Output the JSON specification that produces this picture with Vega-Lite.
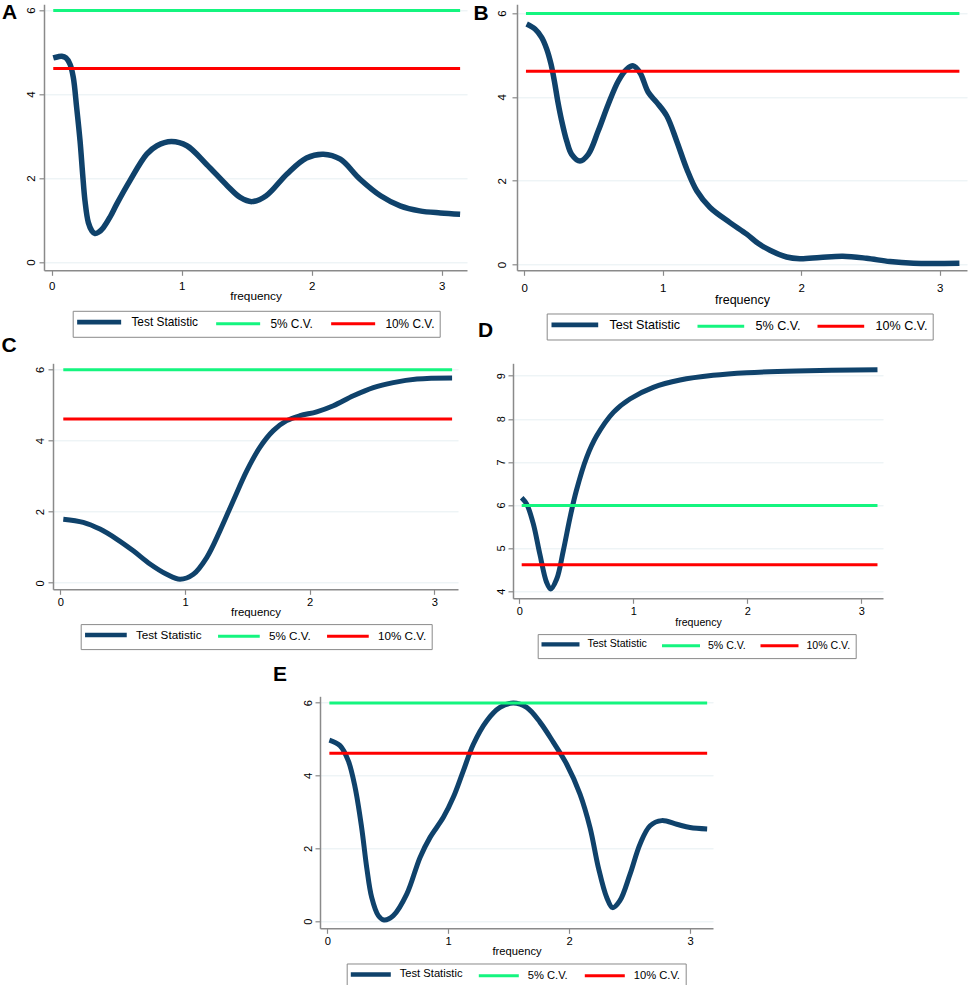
{
  "$schema": "https://vega.github.io/schema/vega-lite/v6.json",
  "padding": {"left": 0, "top": 1.3, "right": 0, "bottom": 0},
  "background": "white",
  "datasets": {
    "A": [
      {"s": "Test Statistic", "f": 0.012, "v": 4.86},
      {"s": "Test Statistic", "f": 0.05, "v": 4.89},
      {"s": "Test Statistic", "f": 0.077, "v": 4.9},
      {"s": "Test Statistic", "f": 0.11, "v": 4.86},
      {"s": "Test Statistic", "f": 0.141, "v": 4.71},
      {"s": "Test Statistic", "f": 0.166, "v": 4.4},
      {"s": "Test Statistic", "f": 0.192, "v": 3.68},
      {"s": "Test Statistic", "f": 0.218, "v": 2.89},
      {"s": "Test Statistic", "f": 0.238, "v": 2.1},
      {"s": "Test Statistic", "f": 0.256, "v": 1.46},
      {"s": "Test Statistic", "f": 0.282, "v": 0.94},
      {"s": "Test Statistic", "f": 0.31, "v": 0.74},
      {"s": "Test Statistic", "f": 0.333, "v": 0.68},
      {"s": "Test Statistic", "f": 0.36, "v": 0.71},
      {"s": "Test Statistic", "f": 0.397, "v": 0.82},
      {"s": "Test Statistic", "f": 0.45, "v": 1.08},
      {"s": "Test Statistic", "f": 0.5, "v": 1.38},
      {"s": "Test Statistic", "f": 0.602, "v": 1.94},
      {"s": "Test Statistic", "f": 0.731, "v": 2.57},
      {"s": "Test Statistic", "f": 0.81, "v": 2.77},
      {"s": "Test Statistic", "f": 0.92, "v": 2.87},
      {"s": "Test Statistic", "f": 1.04, "v": 2.77},
      {"s": "Test Statistic", "f": 1.19, "v": 2.33},
      {"s": "Test Statistic", "f": 1.35, "v": 1.82},
      {"s": "Test Statistic", "f": 1.45, "v": 1.54},
      {"s": "Test Statistic", "f": 1.54, "v": 1.44},
      {"s": "Test Statistic", "f": 1.65, "v": 1.58},
      {"s": "Test Statistic", "f": 1.81, "v": 2.1},
      {"s": "Test Statistic", "f": 1.96, "v": 2.48},
      {"s": "Test Statistic", "f": 2.09, "v": 2.57},
      {"s": "Test Statistic", "f": 2.22, "v": 2.45},
      {"s": "Test Statistic", "f": 2.37, "v": 1.98},
      {"s": "Test Statistic", "f": 2.53, "v": 1.58},
      {"s": "Test Statistic", "f": 2.68, "v": 1.34},
      {"s": "Test Statistic", "f": 2.83, "v": 1.22},
      {"s": "Test Statistic", "f": 2.99, "v": 1.17},
      {"s": "Test Statistic", "f": 3.1416, "v": 1.14},
      {"s": "5% C.V.", "f": 0.012, "v": 5.99},
      {"s": "5% C.V.", "f": 3.1416, "v": 5.99},
      {"s": "10% C.V.", "f": 0.012, "v": 4.61},
      {"s": "10% C.V.", "f": 3.1416, "v": 4.61}
    ],
    "B": [
      {"s": "Test Statistic", "f": 0.017, "v": 5.74},
      {"s": "Test Statistic", "f": 0.077, "v": 5.62},
      {"s": "Test Statistic", "f": 0.125, "v": 5.42},
      {"s": "Test Statistic", "f": 0.162, "v": 5.14},
      {"s": "Test Statistic", "f": 0.193, "v": 4.78},
      {"s": "Test Statistic", "f": 0.217, "v": 4.38},
      {"s": "Test Statistic", "f": 0.241, "v": 3.91},
      {"s": "Test Statistic", "f": 0.27, "v": 3.43},
      {"s": "Test Statistic", "f": 0.306, "v": 2.95},
      {"s": "Test Statistic", "f": 0.342, "v": 2.63},
      {"s": "Test Statistic", "f": 0.402, "v": 2.47},
      {"s": "Test Statistic", "f": 0.462, "v": 2.63},
      {"s": "Test Statistic", "f": 0.534, "v": 3.19},
      {"s": "Test Statistic", "f": 0.607, "v": 3.83},
      {"s": "Test Statistic", "f": 0.679, "v": 4.38},
      {"s": "Test Statistic", "f": 0.739, "v": 4.66},
      {"s": "Test Statistic", "f": 0.787, "v": 4.74},
      {"s": "Test Statistic", "f": 0.835, "v": 4.58},
      {"s": "Test Statistic", "f": 0.895, "v": 4.11},
      {"s": "Test Statistic", "f": 0.956, "v": 3.87},
      {"s": "Test Statistic", "f": 1.028, "v": 3.55},
      {"s": "Test Statistic", "f": 1.1, "v": 2.95},
      {"s": "Test Statistic", "f": 1.173, "v": 2.28},
      {"s": "Test Statistic", "f": 1.245, "v": 1.76},
      {"s": "Test Statistic", "f": 1.341, "v": 1.36},
      {"s": "Test Statistic", "f": 1.485, "v": 1.0},
      {"s": "Test Statistic", "f": 1.606, "v": 0.725},
      {"s": "Test Statistic", "f": 1.69, "v": 0.5},
      {"s": "Test Statistic", "f": 1.774, "v": 0.34},
      {"s": "Test Statistic", "f": 1.894, "v": 0.18},
      {"s": "Test Statistic", "f": 1.99, "v": 0.14},
      {"s": "Test Statistic", "f": 2.135, "v": 0.17},
      {"s": "Test Statistic", "f": 2.3, "v": 0.2},
      {"s": "Test Statistic", "f": 2.47, "v": 0.15},
      {"s": "Test Statistic", "f": 2.64, "v": 0.07},
      {"s": "Test Statistic", "f": 2.81, "v": 0.03},
      {"s": "Test Statistic", "f": 3.1416, "v": 0.03},
      {"s": "5% C.V.", "f": 0.012, "v": 5.99},
      {"s": "5% C.V.", "f": 3.1416, "v": 5.99},
      {"s": "10% C.V.", "f": 0.012, "v": 4.61},
      {"s": "10% C.V.", "f": 3.1416, "v": 4.61}
    ],
    "C": [
      {"s": "Test Statistic", "f": 0.024, "v": 1.79},
      {"s": "Test Statistic", "f": 0.184, "v": 1.7},
      {"s": "Test Statistic", "f": 0.318, "v": 1.51},
      {"s": "Test Statistic", "f": 0.452, "v": 1.23},
      {"s": "Test Statistic", "f": 0.585, "v": 0.9},
      {"s": "Test Statistic", "f": 0.719, "v": 0.53},
      {"s": "Test Statistic", "f": 0.853, "v": 0.24},
      {"s": "Test Statistic", "f": 0.96, "v": 0.1},
      {"s": "Test Statistic", "f": 1.067, "v": 0.24},
      {"s": "Test Statistic", "f": 1.174, "v": 0.71},
      {"s": "Test Statistic", "f": 1.28, "v": 1.46},
      {"s": "Test Statistic", "f": 1.387, "v": 2.31},
      {"s": "Test Statistic", "f": 1.495, "v": 3.15},
      {"s": "Test Statistic", "f": 1.6, "v": 3.81},
      {"s": "Test Statistic", "f": 1.708, "v": 4.28},
      {"s": "Test Statistic", "f": 1.815, "v": 4.56},
      {"s": "Test Statistic", "f": 1.922, "v": 4.7},
      {"s": "Test Statistic", "f": 2.056, "v": 4.81},
      {"s": "Test Statistic", "f": 2.19, "v": 4.98},
      {"s": "Test Statistic", "f": 2.35, "v": 5.26},
      {"s": "Test Statistic", "f": 2.51, "v": 5.49},
      {"s": "Test Statistic", "f": 2.67, "v": 5.63},
      {"s": "Test Statistic", "f": 2.86, "v": 5.73},
      {"s": "Test Statistic", "f": 3.1416, "v": 5.76},
      {"s": "5% C.V.", "f": 0.024, "v": 5.99},
      {"s": "5% C.V.", "f": 3.1416, "v": 5.99},
      {"s": "10% C.V.", "f": 0.024, "v": 4.61},
      {"s": "10% C.V.", "f": 3.1416, "v": 4.61}
    ],
    "D": [
      {"s": "Test Statistic", "f": 0.021, "v": 6.17},
      {"s": "Test Statistic", "f": 0.065, "v": 6.02},
      {"s": "Test Statistic", "f": 0.123, "v": 5.56},
      {"s": "Test Statistic", "f": 0.18, "v": 4.86},
      {"s": "Test Statistic", "f": 0.24, "v": 4.2},
      {"s": "Test Statistic", "f": 0.275, "v": 4.05},
      {"s": "Test Statistic", "f": 0.328, "v": 4.28},
      {"s": "Test Statistic", "f": 0.386, "v": 4.94},
      {"s": "Test Statistic", "f": 0.445, "v": 5.71},
      {"s": "Test Statistic", "f": 0.5, "v": 6.33},
      {"s": "Test Statistic", "f": 0.59, "v": 7.1},
      {"s": "Test Statistic", "f": 0.68, "v": 7.61},
      {"s": "Test Statistic", "f": 0.825, "v": 8.15},
      {"s": "Test Statistic", "f": 0.97, "v": 8.46},
      {"s": "Test Statistic", "f": 1.175, "v": 8.73},
      {"s": "Test Statistic", "f": 1.41, "v": 8.9},
      {"s": "Test Statistic", "f": 1.7, "v": 9.01},
      {"s": "Test Statistic", "f": 1.995, "v": 9.07},
      {"s": "Test Statistic", "f": 2.43, "v": 9.11},
      {"s": "Test Statistic", "f": 3.1416, "v": 9.14},
      {"s": "5% C.V.", "f": 0.021, "v": 5.99},
      {"s": "5% C.V.", "f": 3.1416, "v": 5.99},
      {"s": "10% C.V.", "f": 0.021, "v": 4.61},
      {"s": "10% C.V.", "f": 3.1416, "v": 4.61}
    ],
    "E": [
      {"s": "Test Statistic", "f": 0.017, "v": 4.97},
      {"s": "Test Statistic", "f": 0.105, "v": 4.82},
      {"s": "Test Statistic", "f": 0.174, "v": 4.4},
      {"s": "Test Statistic", "f": 0.23, "v": 3.67},
      {"s": "Test Statistic", "f": 0.284, "v": 2.57},
      {"s": "Test Statistic", "f": 0.326, "v": 1.47},
      {"s": "Test Statistic", "f": 0.367, "v": 0.65},
      {"s": "Test Statistic", "f": 0.422, "v": 0.15},
      {"s": "Test Statistic", "f": 0.469, "v": 0.03},
      {"s": "Test Statistic", "f": 0.546, "v": 0.15},
      {"s": "Test Statistic", "f": 0.657, "v": 0.74},
      {"s": "Test Statistic", "f": 0.767, "v": 1.75},
      {"s": "Test Statistic", "f": 0.85, "v": 2.3},
      {"s": "Test Statistic", "f": 0.96, "v": 2.85},
      {"s": "Test Statistic", "f": 1.042, "v": 3.4},
      {"s": "Test Statistic", "f": 1.125, "v": 4.13},
      {"s": "Test Statistic", "f": 1.208, "v": 4.86},
      {"s": "Test Statistic", "f": 1.318, "v": 5.5},
      {"s": "Test Statistic", "f": 1.428, "v": 5.87},
      {"s": "Test Statistic", "f": 1.538, "v": 5.99},
      {"s": "Test Statistic", "f": 1.649, "v": 5.87},
      {"s": "Test Statistic", "f": 1.76, "v": 5.46},
      {"s": "Test Statistic", "f": 1.87, "v": 4.91},
      {"s": "Test Statistic", "f": 1.98, "v": 4.31},
      {"s": "Test Statistic", "f": 2.09, "v": 3.49},
      {"s": "Test Statistic", "f": 2.173, "v": 2.57},
      {"s": "Test Statistic", "f": 2.242, "v": 1.47},
      {"s": "Test Statistic", "f": 2.311, "v": 0.65},
      {"s": "Test Statistic", "f": 2.36, "v": 0.37},
      {"s": "Test Statistic", "f": 2.42, "v": 0.56},
      {"s": "Test Statistic", "f": 2.504, "v": 1.29},
      {"s": "Test Statistic", "f": 2.587, "v": 2.12},
      {"s": "Test Statistic", "f": 2.67, "v": 2.62},
      {"s": "Test Statistic", "f": 2.766, "v": 2.76},
      {"s": "Test Statistic", "f": 2.89, "v": 2.66},
      {"s": "Test Statistic", "f": 3.0, "v": 2.57},
      {"s": "Test Statistic", "f": 3.1416, "v": 2.53},
      {"s": "5% C.V.", "f": 0.017, "v": 5.99},
      {"s": "5% C.V.", "f": 3.1416, "v": 5.99},
      {"s": "10% C.V.", "f": 0.017, "v": 4.61},
      {"s": "10% C.V.", "f": 3.1416, "v": 4.61}
    ]
  },
  "bounds": "flush",
  "spacing": 0,
  "resolve": {"scale": {"color": "independent"}, "legend": {"color": "independent"}},
  "vconcat": [
    {
      "bounds": "flush",
      "spacing": 0,
      "resolve": {"scale": {"color": "independent"}, "legend": {"color": "independent"}},
      "hconcat": [
        {"width": 44, "height": 1, "data": {"values": []}, "mark": {"type": "point", "opacity": 0}},
        {
          "width": 423,
          "height": 266,
          "title": {"text": "A", "dx": -42, "offset": -18.8, "baseline": "top"},
          "data": {"name": "A"},
          "encoding": {
            "x": {"field": "f", "type": "quantitative", "scale": {"domain": [-0.0592, 3.1946], "nice": false, "zero": false},
              "axis": {"values": [0, 1, 2, 3], "format": "d", "title": "frequency", "labelFontSize": 11.5, "labelPadding": 13.8, "titleFontSize": 11.8, "titleY": 29.7}},
            "y": {"field": "v", "type": "quantitative", "scale": {"domain": [-0.195, 6.138], "nice": false, "zero": false},
              "axis": {"values": [0, 2, 4, 6], "format": "d", "title": null, "labelFontSize": 11.5, "labelPadding": 4.7}},
            "color": {"field": "s", "type": "nominal",
              "scale": {"domain": ["Test Statistic", "5% C.V.", "10% C.V."], "range": ["#0f426b", "#14f57f", "#ff0000"]},
              "legend": {"title": null, "legendX": 28.7, "legendY": 306.5, "symbolType": "M-1.3,0H7.5", "labelOffset": 41.8, "columnPadding": 11, "labelFontSize": 11.9,
                "encode": {"symbols": {"update": {"strokeWidth": {"signal": "datum.value === 'Test Statistic' ? 4.7 : 3"}}}}}}
          },
          "layer": [
            {"transform": [{"filter": "datum.s === 'Test Statistic'"}], "mark": {"type": "line", "strokeWidth": 5.5, "interpolate": "catmull-rom"}},
            {"transform": [{"filter": "datum.s !== 'Test Statistic'"}], "mark": {"type": "line", "strokeWidth": 3}}
          ]
        },
        {"width": 50, "height": 1, "data": {"values": []}, "mark": {"type": "point", "opacity": 0}},
        {
          "width": 450,
          "height": 266,
          "title": {"text": "B", "dx": -43.4, "offset": -19.5, "baseline": "top"},
          "data": {"name": "B"},
          "encoding": {
            "x": {"field": "f", "type": "quantitative", "scale": {"domain": [-0.0527, 3.1964], "nice": false, "zero": false},
              "axis": {"values": [0, 1, 2, 3], "format": "d", "title": "frequency", "labelFontSize": 11.5, "labelPadding": 16.2, "titleFontSize": 12.5, "titleY": 32.8}},
            "y": {"field": "v", "type": "quantitative", "scale": {"domain": [-0.138, 6.21], "nice": false, "zero": false},
              "axis": {"values": [0, 2, 4, 6], "format": "d", "title": null, "labelFontSize": 11.5, "labelPadding": 6}},
            "color": {"field": "s", "type": "nominal",
              "scale": {"domain": ["Test Statistic", "5% C.V.", "10% C.V."], "range": ["#0f426b", "#14f57f", "#ff0000"]},
              "legend": {"title": null, "legendX": 29.7, "legendY": 309.2, "symbolType": "M-1.3,0H8.04", "labelOffset": 45.2, "columnPadding": 10, "labelFontSize": 12.6,
                "encode": {"symbols": {"update": {"strokeWidth": {"signal": "datum.value === 'Test Statistic' ? 4.7 : 3"}}}}}}
          },
          "layer": [
            {"transform": [{"filter": "datum.s === 'Test Statistic'"}], "mark": {"type": "line", "strokeWidth": 5.5, "interpolate": "catmull-rom"}},
            {"transform": [{"filter": "datum.s !== 'Test Statistic'"}], "mark": {"type": "line", "strokeWidth": 3}}
          ]
        }
      ]
    },
    {"width": 1, "height": 359, "data": {"values": []}, "mark": {"type": "point", "opacity": 0}},
    {
      "bounds": "flush",
      "spacing": 0,
      "resolve": {"scale": {"color": "independent"}, "legend": {"color": "independent"}},
      "hconcat": [
        {"width": 53, "height": 1, "data": {"values": []}, "mark": {"type": "point", "opacity": 0}},
        {
          "width": 405,
          "height": 226,
          "title": {"text": "C", "dx": -51.6, "offset": 6.8, "baseline": "top"},
          "data": {"name": "C"},
          "encoding": {
            "x": {"field": "f", "type": "quantitative", "scale": {"domain": [-0.0585, 3.189], "nice": false, "zero": false},
              "axis": {"values": [0, 1, 2, 3], "format": "d", "title": "frequency", "labelFontSize": 11.2, "labelPadding": 11.5, "titleFontSize": 11.4, "titleY": 26.5}},
            "y": {"field": "v", "type": "quantitative", "scale": {"domain": [-0.183, 6.174], "nice": false, "zero": false},
              "axis": {"values": [0, 2, 4, 6], "format": "d", "title": null, "labelFontSize": 11.2, "labelPadding": 4.3}},
            "color": {"field": "s", "type": "nominal",
              "scale": {"domain": ["Test Statistic", "5% C.V.", "10% C.V."], "range": ["#0f426b", "#14f57f", "#ff0000"]},
              "legend": {"title": null, "legendX": 27.7, "legendY": 260.8, "symbolType": "M-1.3,0H7.04", "labelOffset": 38.5, "columnPadding": 10, "labelFontSize": 11.7,
                "encode": {"symbols": {"update": {"strokeWidth": {"signal": "datum.value === 'Test Statistic' ? 4.5 : 3"}}}}}}
          },
          "layer": [
            {"transform": [{"filter": "datum.s === 'Test Statistic'"}], "mark": {"type": "line", "strokeWidth": 5, "interpolate": "catmull-rom"}},
            {"transform": [{"filter": "datum.s !== 'Test Statistic'"}], "mark": {"type": "line", "strokeWidth": 3}}
          ]
        },
        {"width": 55, "height": 1, "data": {"values": []}, "mark": {"type": "point", "opacity": 0}},
        {
          "width": 370,
          "height": 235,
          "title": {"text": "D", "dx": -35, "offset": 18.5, "baseline": "top"},
          "data": {"name": "D"},
          "encoding": {
            "x": {"field": "f", "type": "quantitative", "scale": {"domain": [-0.0553, 3.19], "nice": false, "zero": false},
              "axis": {"values": [0, 1, 2, 3], "format": "d", "title": "frequency", "labelFontSize": 11, "labelPadding": 11.5, "titleFontSize": 10.6, "titleY": 27}},
            "y": {"field": "v", "type": "quantitative", "scale": {"domain": [3.833, 9.289], "nice": false, "zero": false},
              "axis": {"values": [4, 5, 6, 7, 8, 9], "format": "d", "title": null, "labelFontSize": 11, "labelPadding": 3}},
            "color": {"field": "s", "type": "nominal",
              "scale": {"domain": ["Test Statistic", "5% C.V.", "10% C.V."], "range": ["#0f426b", "#14f57f", "#ff0000"]},
              "legend": {"title": null, "legendX": 24.7, "legendY": 270.8, "symbolType": "M-1.3,0H6.3", "labelOffset": 34.1, "columnPadding": 7.5, "labelFontSize": 10.6,
                "encode": {"symbols": {"update": {"strokeWidth": {"signal": "datum.value === 'Test Statistic' ? 4.3 : 3"}}}}}}
          },
          "layer": [
            {"transform": [{"filter": "datum.s === 'Test Statistic'"}], "mark": {"type": "line", "strokeWidth": 5, "interpolate": "catmull-rom"}},
            {"transform": [{"filter": "datum.s !== 'Test Statistic'"}], "mark": {"type": "line", "strokeWidth": 3}}
          ]
        }
      ]
    },
    {"width": 1, "height": 333, "data": {"values": []}, "mark": {"type": "point", "opacity": 0}},
    {
      "bounds": "flush",
      "spacing": 0,
      "resolve": {"scale": {"color": "independent"}, "legend": {"color": "independent"}},
      "hconcat": [
        {"width": 320, "height": 1, "data": {"values": []}, "mark": {"type": "point", "opacity": 0}},
        {
          "width": 393,
          "height": 232,
          "title": {"text": "E", "dx": -47, "offset": 8.5, "baseline": "top"},
          "data": {"name": "E"},
          "encoding": {
            "x": {"field": "f", "type": "quantitative", "scale": {"domain": [-0.0604, 3.19], "nice": false, "zero": false},
              "axis": {"values": [0, 1, 2, 3], "format": "d", "title": "frequency", "labelFontSize": 11.2, "labelPadding": 10.8, "titleFontSize": 11.2, "titleY": 26.2}},
            "y": {"field": "v", "type": "quantitative", "scale": {"domain": [-0.198, 6.176], "nice": false, "zero": false},
              "axis": {"values": [0, 2, 4, 6], "format": "d", "title": null, "labelFontSize": 11.2, "labelPadding": 3.3}},
            "color": {"field": "s", "type": "nominal",
              "scale": {"domain": ["Test Statistic", "5% C.V.", "10% C.V."], "range": ["#0f426b", "#14f57f", "#ff0000"]},
              "legend": {"title": null, "legendX": 26.7, "legendY": 267.2, "symbolType": "M-1.3,0H6.7", "labelOffset": 36.8, "columnPadding": 10, "labelFontSize": 11.2,
                "encode": {"symbols": {"update": {"strokeWidth": {"signal": "datum.value === 'Test Statistic' ? 4.3 : 3"}}}}}}
          },
          "layer": [
            {"transform": [{"filter": "datum.s === 'Test Statistic'"}], "mark": {"type": "line", "strokeWidth": 5, "interpolate": "catmull-rom"}},
            {"transform": [{"filter": "datum.s !== 'Test Statistic'"}], "mark": {"type": "line", "strokeWidth": 3}}
          ]
        }
      ]
    }
  ],
  "config": {
    "font": "Liberation Sans",
    "view": {"stroke": null},
    "title": {"font": "Liberation Sans", "fontSize": 21, "fontWeight": "bold", "anchor": "start", "frame": "group", "color": "#000000"},
    "axis": {"domainColor": "#8a8a8a", "domainWidth": 1.5, "tickColor": "#8a8a8a", "tickWidth": 1.2, "tickSize": 5, "labelColor": "#000000", "titleColor": "#000000", "titleFontWeight": "normal", "labelFont": "Liberation Sans", "titleFont": "Liberation Sans", "gridColor": "#e6eff2", "gridWidth": 1, "labelFlush": false, "labelOverlap": false},
    "axisX": {"grid": false, "labelBaseline": "alphabetic", "titleBaseline": "alphabetic"},
    "axisY": {"grid": true, "labelAngle": -90, "labelAlign": "center", "labelBaseline": "alphabetic"},
    "legend": {"orient": "none", "direction": "horizontal", "columns": 3, "symbolSize": 100, "symbolStrokeWidth": 3, "strokeColor": "#8a8a8a", "padding": 5, "fillColor": "white", "labelColor": "#000000", "labelFont": "Liberation Sans", "labelLimit": 400, "symbolOffset": 0}
  }
}
